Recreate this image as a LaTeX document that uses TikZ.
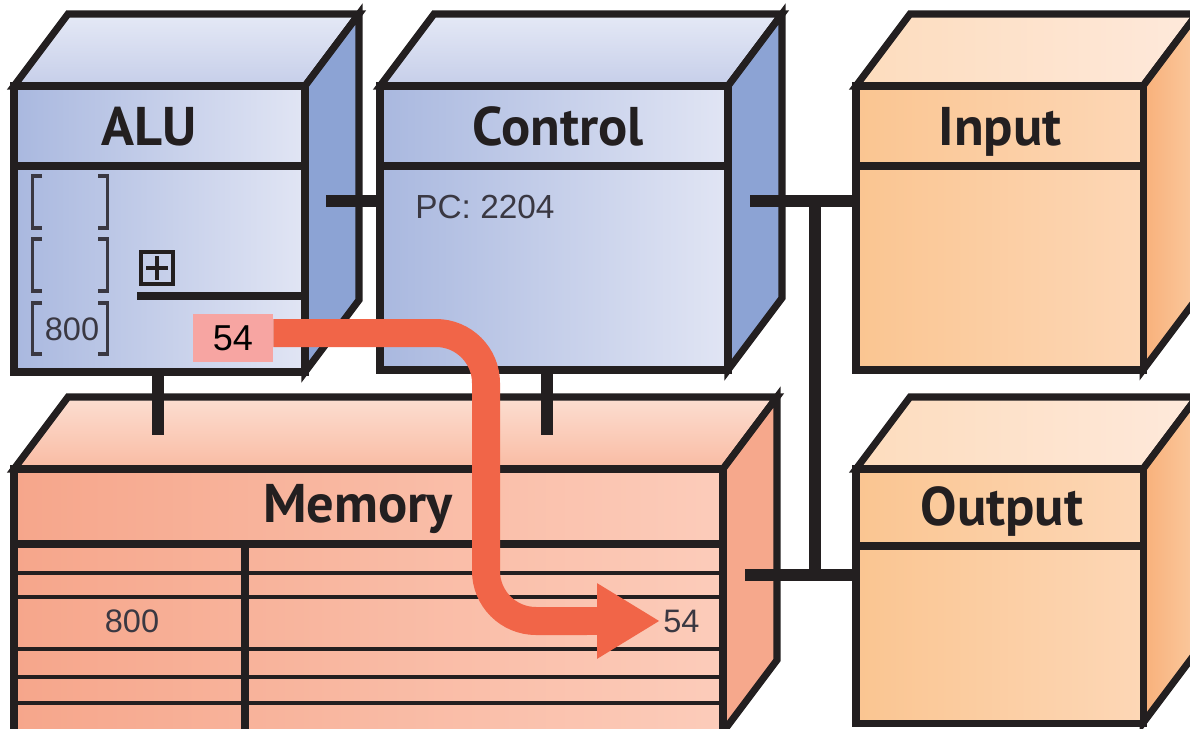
\documentclass[tikz,border=0pt]{standalone}
\usepackage{fontspec}
\setmainfont{Liberation Sans}
\newfontfamily\titlefont{PT Sans}
\usetikzlibrary{arrows.meta,fit,calc}
\definecolor{ink}{HTML}{231F20}
\definecolor{txt}{HTML}{3A3842}
\definecolor{bluL}{HTML}{A9B8DF}
\definecolor{bluR}{HTML}{E1E5F4}
\definecolor{bluT1}{HTML}{E5E9F6}
\definecolor{bluT2}{HTML}{C6CEE9}
\definecolor{bluS}{HTML}{8CA3D4}
\definecolor{orgL}{HTML}{FAC591}
\definecolor{orgR}{HTML}{FDD7B6}
\definecolor{orgT1}{HTML}{FDDCBD}
\definecolor{orgT2}{HTML}{FEE9DB}
\definecolor{orgS1}{HTML}{F8B07A}
\definecolor{orgS2}{HTML}{FBC99E}
\definecolor{memL}{HTML}{F6A68B}
\definecolor{memR}{HTML}{FCCCBA}
\definecolor{memT1}{HTML}{FCDED1}
\definecolor{memT2}{HTML}{F9BBA3}
\definecolor{memS}{HTML}{F6A88C}
\definecolor{flow}{HTML}{F16548}
\definecolor{lblfill}{HTML}{F7A5A2}
\tikzset{
  boxline/.style={draw=ink, line width=4pt, line join=miter},
  bluefront/.style={left color=bluL, right color=bluR},
  bluetop/.style={top color=bluT1, bottom color=bluT2},
  blueside/.style={fill=bluS},
  orgfront/.style={left color=orgL, right color=orgR},
  orgtop/.style={left color=orgT1, right color=orgT2},
  orgside/.style={left color=orgS1, right color=orgS2},
  memfront/.style={left color=memL, right color=memR},
  memtop/.style={top color=memT1, bottom color=memT2},
  memside/.style={fill=memS},
  divider/.style={draw=ink, line width=4.2pt},
  thinrow/.style={draw=ink, line width=2.8pt},
  bus/.style={draw=ink, line width=7pt},
  title/.style={font=\titlefont\bfseries\fontsize{31}{36}\selectfont, text=ink, inner sep=0pt, anchor=base},
  bodytext/.style={font=\fontsize{19}{22}\selectfont, text=txt, inner sep=0pt},
  brk/.style={draw=txt, line width=2.1pt},
  flowarrow/.style={draw=flow, line width=0.56cm, rounded corners=1cm,
    -{Triangle[width=1.42cm, length=1.26cm]}, shorten >=0.06cm},
}
\newcommand\drawcube[8]{%
  \coordinate (#1-nw) at (#2,#3);
  \coordinate (#1-se) at (#4,#5);
  \path[#7, boxline] (#2,#3) -- (#2+54,#3-72) -- (#4+54,#3-72) -- (#4,#3) -- cycle;
  \path[#8, boxline] (#4,#3) -- (#4+54,#3-72) -- (#4+54,#5-72) -- (#4,#5) -- cycle;
  \path[#6, boxline] (#2,#3) rectangle (#4,#5);
  \node[fit=(#1-nw)(#1-se), inner sep=0pt] (#1) {};
}
\begin{document}
\begin{tikzpicture}[x=0.02cm, y=-0.02cm]
\useasboundingbox (0,0) rectangle (1190,728);
\clip (0,0) rectangle (1190,728);
\fill[white] (0,0) rectangle (1190,728);

% boxes
\drawcube{alu}{14}{86}{305}{372}{bluefront}{bluetop}{blueside}
\drawcube{ctl}{380}{86}{728}{370}{bluefront}{bluetop}{blueside}
\drawcube{inp}{856}{86}{1143}{370}{orgfront}{orgtop}{orgside}
\drawcube{mem}{14}{469}{723}{732}{memfront}{memtop}{memside}
\drawcube{out}{856}{469}{1143}{723}{orgfront}{orgtop}{orgside}

% header dividers
\draw[divider] (14,166) -- (305,166);
\draw[divider] (380,166) -- (728,166);
\draw[divider] (856,166) -- (1143,166);
\draw[divider] (14,544) -- (723,544);
\draw[divider] (856,546) -- (1143,546);

% memory grid
\foreach \yy in {573,597,649,677,703} \draw[thinrow] (14,\yy) -- (723,\yy);
\draw[draw=ink, line width=5pt] (245,544) -- (245,732);

% titles
\node[title] (alu-t) at (149,145) {ALU};
\node[title] (ctl-t) at (558,145) {Control};
\node[title] (inp-t) at (1000,145) {Input};
\node[title] (mem-t) at (358,522) {Memory};
\node[title] (out-t) at (1002,525) {Output};

% ALU registers
\foreach \ya/\yb in {176/228, 239/291, 303/354} {
  \draw[brk] (42,\ya) -- (32.5,\ya) -- (32.5,\yb) -- (42,\yb);
  \draw[brk] (98,\ya) -- (107.5,\ya) -- (107.5,\yb) -- (98,\yb);
}
\node[bodytext, anchor=base, font=\fontsize{18.5}{22}\selectfont] (alu-r3) at (72,340) {800};
% adder symbol
\draw[draw=ink, line width=2.6pt] (141,252) rectangle (173,284);
\draw[draw=ink, line width=2.6pt] (146,268) -- (168,268) (157,256) -- (157,280);
\draw[draw=ink, line width=4.5pt] (137,296) -- (305,296);

% control text
\node[bodytext, anchor=base west] (pc) at (415,218) {PC: 2204};

% memory cell texts
\node[bodytext, anchor=base, font=\fontsize{18.5}{22}\selectfont] (m800) at (132,632) {800};
\node[bodytext, anchor=base west, font=\fontsize{18.5}{22}\selectfont] (m54) at (663,632) {54};

% connectors
\coordinate (alu-port) at (326,201);
\coordinate (ctl-port) at (750,201);
\coordinate (bus-top) at (815,201);
\coordinate (bus-bot) at (815,575);
\coordinate (mem-port) at (745,575);
\coordinate (alu-mem) at (158,435);
\coordinate (ctl-mem) at (547,435);
\draw[bus] (alu-port) -- (alu-port -| ctl.west);
\draw[bus] (ctl-port) -- (ctl-port -| inp.west);
\draw[bus] (bus-top) -- (bus-bot);
\draw[bus] (mem-port) -- (mem-port -| out.west);
\draw[bus] (alu-mem |- alu.south) -- (alu-mem);
\draw[bus] (ctl-mem |- ctl.south) -- (ctl-mem);

% data flow
\node[fill=lblfill, minimum width=1.6cm, minimum height=0.96cm, inner sep=0pt,
      font=\fontsize{20.5}{24}\selectfont, text=black] (lbl) at (233,338) {54};
\draw[flowarrow] ($(lbl.east)+(0,-5)$) -- (486,333) -- (486,621) -- (m54.west);
\end{tikzpicture}
\end{document}
